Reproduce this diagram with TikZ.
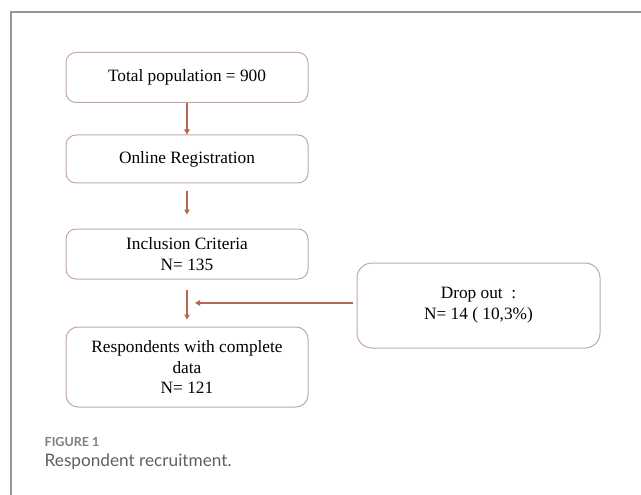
\documentclass[tikz,border=0pt]{standalone}
\usepackage{fontspec}
\setmainfont{Liberation Serif}
\newfontfamily\capfont{Lato}
\usetikzlibrary{arrows.meta}
\definecolor{boxline}{RGB}{196,168,158}
\definecolor{arrowc}{RGB}{178,104,82}
\definecolor{framec}{RGB}{150,150,150}
\definecolor{capgray}{RGB}{125,125,125}
\definecolor{capdark}{RGB}{95,95,95}
\tikzset{
  flowbox/.style={draw=boxline, line width=1pt, rounded corners=10pt, align=center,
    minimum width=242pt, inner sep=0pt, font=\fontsize{17.3}{20.8}\selectfont},
  arr/.style={draw=arrowc, line width=1.1pt, -{Triangle[length=5pt,width=5.5pt]}},
}
\begin{document}
\begin{tikzpicture}[x=1pt,y=-1pt]
\useasboundingbox (0,0) rectangle (641,495);
\draw[framec, line width=1.2pt] (641,12) -- (11,12) -- (11,495);
\node[flowbox, minimum height=50pt] (b1) at (187,77.5) {Total population = 900};
\node[flowbox, minimum height=48pt] (b2) at (187,159) {Online Registration};
\node[flowbox, minimum height=50pt] (b3) at (187,254) {Inclusion Criteria\\N= 135};
\node[flowbox, minimum height=80pt, rounded corners=12pt] (b4) at (187,367) {Respondents with complete\\data\\N= 121};
\node[flowbox, minimum width=243pt, minimum height=85pt, rounded corners=15pt] (drop) at (478.5,305.5) {Drop out~~:\\N= 14 ( 10,3\%)};
\coordinate (m) at (195,303);
\draw[arr] (b1) -- (b2);
\draw[arr, shorten <=7pt, shorten >=14pt] (b2) -- (b3);
\draw[arr, shorten <=10pt, shorten >=7pt] (b3) -- (b4);
\draw[arr] ([xshift=-4pt]drop.west |- m) -- (m);
\node[anchor=base west, inner sep=0pt, text=capgray, font=\capfont\bfseries\fontsize{12.5}{15}\selectfont] (cap1) at (44.5,446) {FIGURE 1};
\node[anchor=base west, inner sep=0pt, text=capdark, font=\capfont\fontsize{17.2}{20}\selectfont] (cap2) at (44.5,466) {Respondent recruitment.};
\end{tikzpicture}
\end{document}
